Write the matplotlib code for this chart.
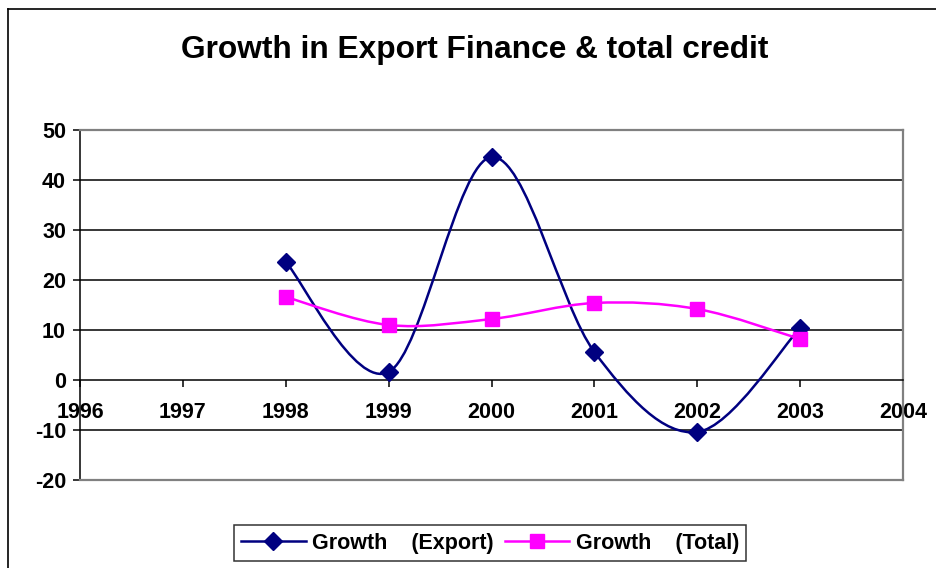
import matplotlib.pyplot as plt
import numpy as np
from matplotlib.path import Path
from matplotlib.patches import PathPatch
from matplotlib.lines import Line2D

plt.rcParams['font.family'] = ['Liberation Sans', 'DejaVu Sans']
plt.rcParams['font.weight'] = 'bold'

years = [1998, 1999, 2000, 2001, 2002, 2003]
growth_export = [23.6, 1.6, 44.6, 5.6, -10.4, 10.4]
growth_total = [16.6, 11.0, 12.2, 15.4, 14.2, 8.2]
x_ticks = [1996, 1997, 1998, 1999, 2000, 2001, 2002, 2003, 2004]
y_ticks = [-20, -10, 0, 10, 20, 30, 40, 50]


def smooth_path(xs, ys):
    # Catmull-Rom style bezier segments, like a spreadsheet "smoothed line"
    pts = np.column_stack([xs, ys]).astype(float)
    n = len(pts)
    verts = [pts[0]]
    codes = [Path.MOVETO]
    for i in range(n - 1):
        p0 = pts[i - 1] if i > 0 else pts[i]
        p1 = pts[i]
        p2 = pts[i + 1]
        p3 = pts[i + 2] if i + 2 < n else pts[i + 1]
        c1 = p1 + (p2 - p0) / 6.0
        c2 = p2 - (p3 - p1) / 6.0
        verts += [c1, c2, p2]
        codes += [Path.CURVE4] * 3
    return Path(verts, codes)


fig = plt.figure(figsize=(9.37, 5.68), dpi=100)
ax = fig.add_axes([80 / 937, 88 / 568, 823 / 937, 350 / 568])

ax.set_xlim(1996, 2004)
ax.set_ylim(-20, 50)

for v in [-10, 10, 20, 30, 40]:
    ax.axhline(v, color='black', lw=1.1, zorder=1)

for sp in ['top', 'right']:
    ax.spines[sp].set_color('#808080')
    ax.spines[sp].set_linewidth(1.6)
ax.spines['left'].set_color('black')
ax.spines['left'].set_linewidth(1.1)
ax.spines['bottom'].set_position(('data', 0))
ax.spines['bottom'].set_color('black')
ax.spines['bottom'].set_linewidth(1.1)
ax.add_line(Line2D([0, 1], [0, 0], transform=ax.transAxes, color='#808080',
                   lw=1.6, clip_on=False, zorder=3))

ax.add_patch(PathPatch(smooth_path(years, growth_export), fill=False,
                       edgecolor='#000080', lw=1.8, zorder=4))
ax.add_patch(PathPatch(smooth_path(years, growth_total), fill=False,
                       edgecolor='#FF00FF', lw=1.8, zorder=4))
ax.plot(years, growth_export, ls='none', marker='D', ms=9, color='#000080', zorder=5)
ax.plot(years, growth_total, ls='none', marker='s', ms=10, color='#FF00FF', zorder=5)

ax.set_xticks(x_ticks)
ax.set_xticklabels([str(y) for y in x_ticks], fontsize=15.5, fontweight='bold')
ax.set_yticks(y_ticks)
ax.set_yticklabels([str(v) for v in y_ticks], fontsize=15.5, fontweight='bold')
ax.tick_params(axis='x', direction='out', length=5, width=1.1, pad=11)
ax.tick_params(axis='y', direction='out', length=5, width=1.1, pad=5)

fig.text(0.507, 1 - 50 / 568, 'Growth in Export Finance & total credit',
         ha='center', va='center', fontsize=22.8, fontweight='bold')

handles = [
    Line2D([], [], color='#000080', lw=1.8, marker='D', ms=9),
    Line2D([], [], color='#FF00FF', lw=1.8, marker='s', ms=10),
]
leg = fig.legend(handles, ['Growth    (Export)', 'Growth    (Total)'],
                 loc='center', bbox_to_anchor=(490 / 937, 1 - 543 / 568),
                 ncol=2, fontsize=15.5, frameon=True, fancybox=False,
                 handlelength=3.0, handletextpad=0.3, columnspacing=0.5,
                 borderpad=0.35, borderaxespad=0)
leg.get_frame().set_edgecolor('black')
leg.get_frame().set_linewidth(1.1)
for t in leg.get_texts():
    t.set_fontweight('bold')

# outer chart frame (only top and left edges show)
fig.add_artist(Line2D([8 / 937, 1.0], [1 - 9 / 568, 1 - 9 / 568],
                      transform=fig.transFigure, color='black', lw=1.2))
fig.add_artist(Line2D([8 / 937, 8 / 937], [0.0, 1 - 9 / 568],
                      transform=fig.transFigure, color='black', lw=1.2))

fig.savefig('out.png', dpi=100)
